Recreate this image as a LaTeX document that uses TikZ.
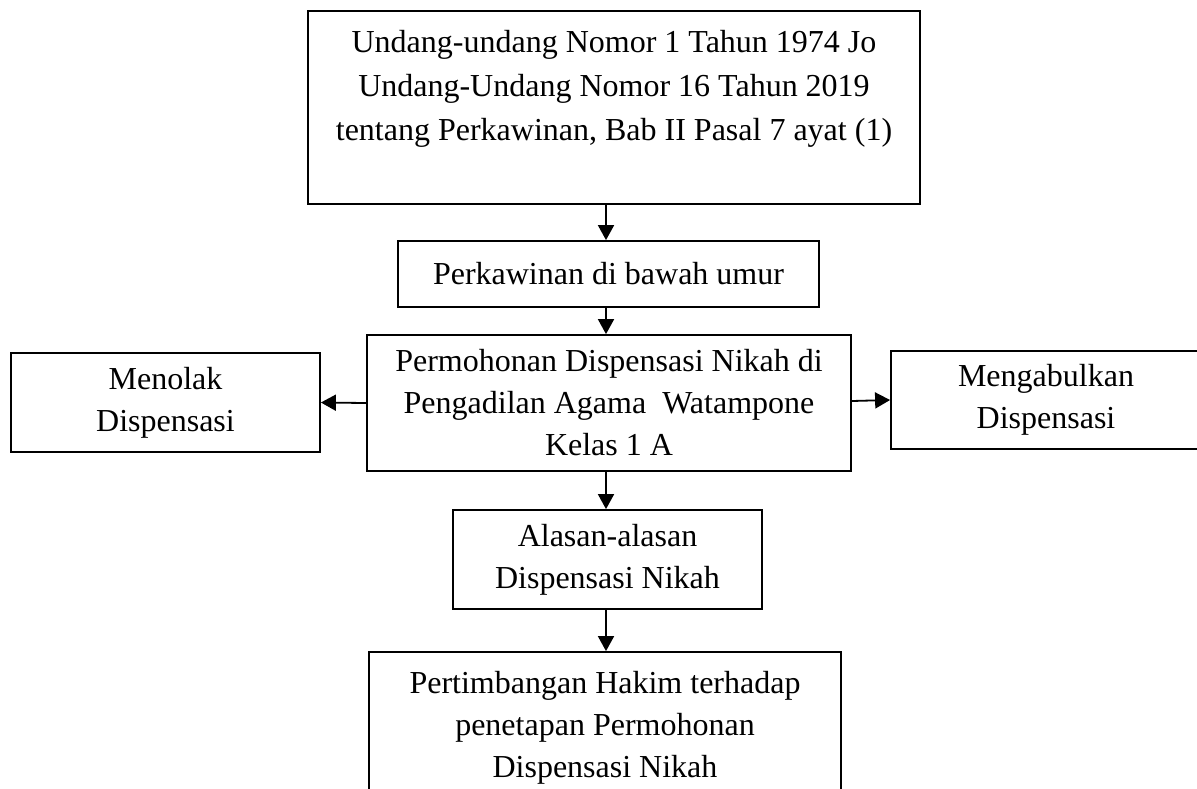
\documentclass[tikz,border=0pt]{standalone}
\usepackage{fontspec}
\setmainfont{Liberation Serif}
\usetikzlibrary{arrows.meta}

\tikzset{
  box/.style={draw, line width=0.9pt, align=center, inner sep=0pt,
    font=\fontsize{16}{21}\selectfont},
  flow/.style={line width=0.9pt, -{Triangle[width=8pt,length=7.5pt]}}
}

\begin{document}
\begin{tikzpicture}[x=0.5pt, y=-0.5pt]
  \useasboundingbox (0,0) rectangle (1197,788);
  \clip (0,0) rectangle (1197,788);

  % main column
  \node[box, minimum width=306pt, minimum height=96.5pt,
    font=\fontsize{16}{22}\selectfont] (law) at (614,107.5)
    {Undang-undang Nomor 1 Tahun 1974 Jo\\ Undang-Undang Nomor 16 Tahun 2019\\
     tentang Perkawinan, Bab II Pasal 7 ayat (1)\\ \mbox{}};
  \node[box, minimum width=210.5pt, minimum height=33pt] (under) at (608.5,274)
    {Perkawinan di bawah umur};
  \node[box, minimum width=242pt, minimum height=68pt] (apply) at (609,403)
    {Permohonan Dispensasi Nikah di\\ Pengadilan Agama\ \ Watampone\\ Kelas 1 A};
  \node[box, minimum width=154.5pt, minimum height=49.5pt] (reason) at (607.5,559.5)
    {Alasan-alasan\\ Dispensasi Nikah};
  \node[box, minimum width=236pt, minimum height=76pt] (judge) at (605,728)
    {Pertimbangan Hakim terhadap\\ penetapan Permohonan\\ Dispensasi Nikah};

  % side boxes
  \node[box, minimum width=154.5pt, minimum height=49.5pt] (reject) at (165.5,402.5)
    {Menolak\\ Dispensasi};
  \node[box, minimum width=155pt, minimum height=49pt] (grant) at (1046,400)
    {Mengabulkan\\ Dispensasi};

  \coordinate (spine) at (606,0);

  % connectors
  \draw[flow] (law.south -| spine) -- (under.north -| spine);
  \draw[flow] (under.south -| spine) -- (apply.north -| spine);
  \draw[flow] (apply.south -| spine) -- (reason.north -| spine);
  \draw[flow] (reason.south -| spine) -- (judge.north -| spine);
  \draw[flow] (apply.west) -- (reject.east);
  \draw[flow] ([yshift=1pt]apply.east) -- (grant.west);
\end{tikzpicture}
\end{document}
